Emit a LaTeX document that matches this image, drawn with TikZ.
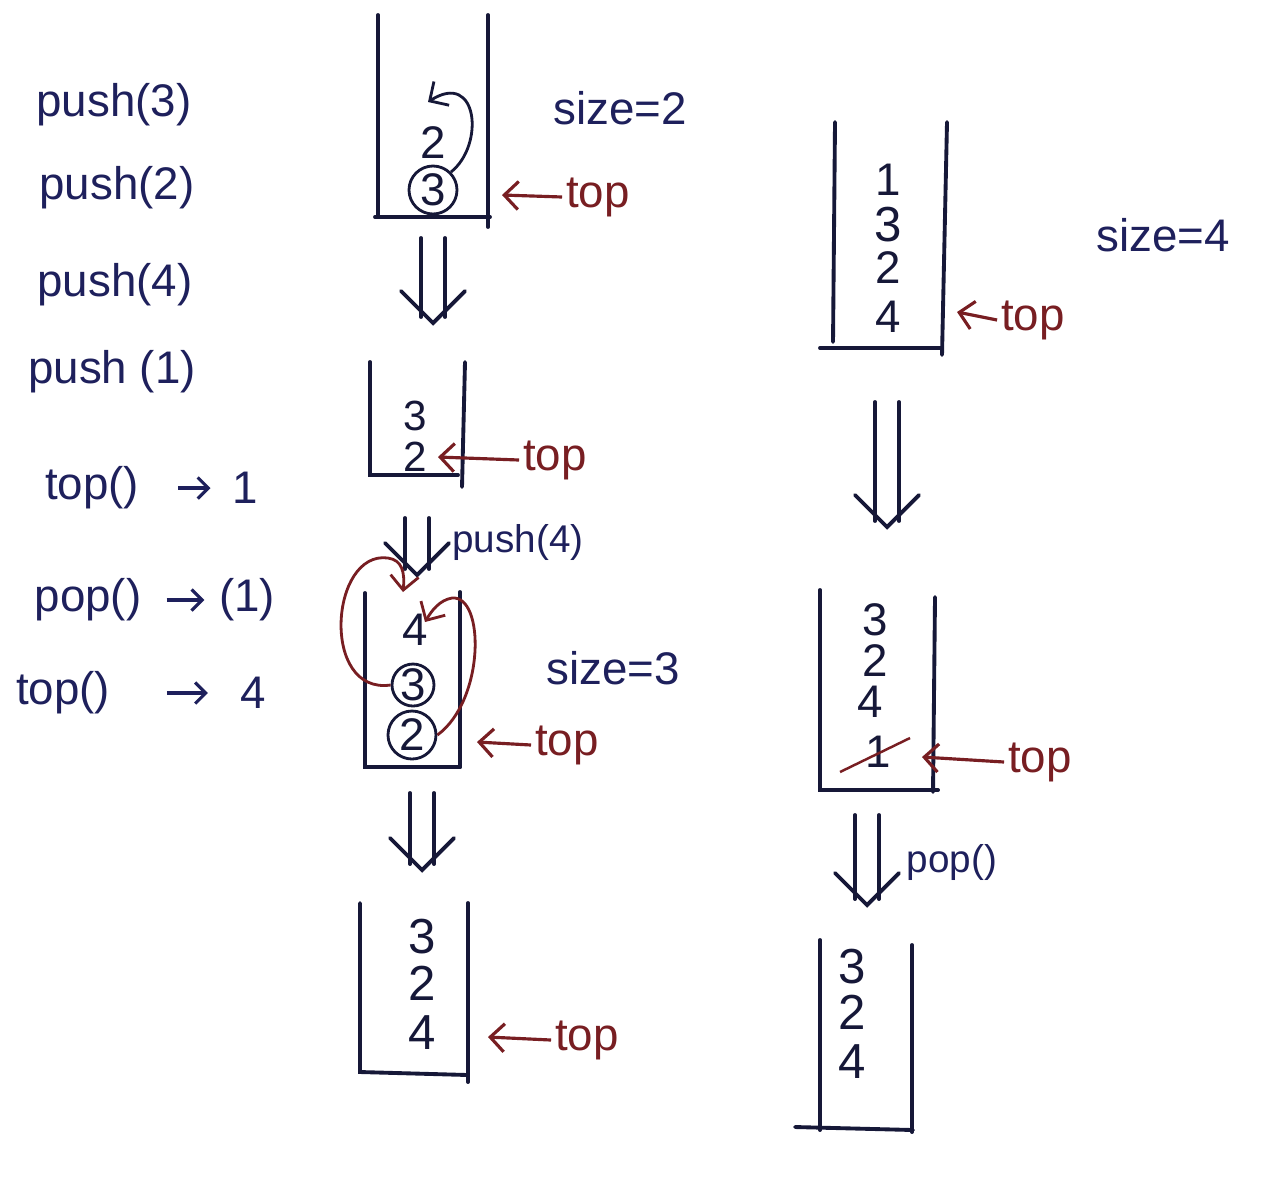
\documentclass[tikz,border=0pt]{standalone}
\usepackage{fontspec}
\setmainfont{Liberation Sans}
\usetikzlibrary{arrows.meta}
\definecolor{ink}{RGB}{30,32,92}
\definecolor{redink}{RGB}{120,30,34}
\definecolor{wallink}{RGB}{22,24,56}
\def\thendown(#1,#2,#3){\draw[wall] (#1-0.12,#2) -- (#1-0.12,#3-0.06); \draw[wall] (#1+0.12,#2) -- (#1+0.12,#3-0.06); \draw[wall] (#1-0.32,#3-0.32) -- (#1,#3) -- (#1+0.32,#3-0.32);}
\begin{document}
\begin{tikzpicture}[x=1cm, y=-1cm,
	wall/.style={line width=1.1pt, color=wallink, line cap=round},
	op/.style={font=\fontsize{13}{15}\selectfont, text=ink, inner sep=1pt},
	num/.style={font=\fontsize{13}{15}\selectfont, text=wallink, inner sep=0pt},
	ring/.style={circle, draw=wallink, line width=0.8pt, minimum size=0.48cm, inner sep=0pt},
	tag/.style={font=\fontsize{13}{15}\selectfont, text=redink, inner sep=1pt},
	ptr/.style={-{Straight Barb[length=4pt,width=8pt]}, line width=0.9pt, color=redink},
	go/.style={-{Straight Barb[length=3pt,width=6pt]}, line width=0.9pt, color=ink},
	swirl/.style={-{Straight Barb[length=4pt,width=8pt]}, line width=0.8pt, color=redink}]
			\useasboundingbox[fill=white] (0,0) rectangle (12.8,11.95);
			
			%%%%% OPERATIONS %%%%%
			\node[op] (p3) at (1.14,1.05) {push(3)};
			\node[op] (p2) at (1.17,1.88) {push(2)};
			\node[op] (p4) at (1.15,2.85) {push(4)};
			\node[op] (p1) at (1.12,3.72) {push (1)};
			
			\node[op] (topa) at (0.92,4.88) {top()};
			\node[op] (vala) at (2.45,4.88) {1};
			\draw[go, shorten <=10pt, shorten >=5pt] (topa.east) -- (vala.west);
			
			\node[op] (popa) at (0.88,6.00) {pop()};
			\node[op] (valb) at (2.47,6.00) {(1)};
			\draw[go, shorten <=6pt, shorten >=3pt] (popa.east) -- (valb.west);
			
			\node[op] (topb) at (0.63,6.93) {top()};
			\node[op] (valc) at (2.53,6.93) {4};
			\draw[go, shorten <=15pt, shorten >=8pt] (topb.east) -- (valc.west);
			
			%%%%% STACK 1 %%%%%
			\draw[wall] (3.78,0.15) -- (3.78,2.17);
			\draw[wall] (3.75,2.17) -- (4.90,2.17);
			\draw[wall] (4.88,0.15) -- (4.88,2.27);
			\node[num, ring] (s1c3) at (4.33,1.90) {3};
			\node[num] (s1n2) at (4.33,1.43) {2};
			\draw[swirl, color=wallink] (s1c3.north east) .. controls (4.85,1.45) and (4.78,0.70) .. (4.28,1.02);
			\node[op] (sz2) at (6.20,1.08) {size=2};
			\node[tag] (tp1) at (5.98,1.97) {top};
			\coordinate (s1p) at (5.02,1.95);
			\draw[ptr] (tp1.west) -- (s1p);
			
			\thendown(4.33,2.38,3.23)
			
			%%%%% STACK 2 %%%%%
			\draw[wall] (3.70,3.62) -- (3.70,4.75) -- (4.58,4.75);
			\draw[wall] (4.65,3.62) -- (4.62,4.87);
			\node[num, font=\fontsize{12}{14}\selectfont] (s2n3) at (4.15,4.16) {3};
			\node[num, font=\fontsize{12}{14}\selectfont] (s2n2) at (4.15,4.57) {2};
			\node[tag] (tp2) at (5.55,4.60) {top};
			\coordinate (s2p) at (4.38,4.57);
			\draw[ptr] (tp2.west) -- (s2p);
			
			\thendown(4.17,5.18,5.75)
			\node[op, font=\fontsize{11}{13}\selectfont] (p4b) at (5.18,5.42) {push(4)};
			
			%%%%% STACK 3 %%%%%
			\draw[wall] (3.65,5.93) -- (3.65,7.67) -- (4.60,7.67);
			\draw[wall] (4.60,5.92) -- (4.60,7.67);
			\node[num] (s3n4) at (4.15,6.30) {4};
			\node[num, ring, minimum size=0.42cm] (s3c3) at (4.13,6.85) {3};
			\node[num, ring] (s3c2) at (4.12,7.35) {2};
			\draw[swirl] (s3c3.west) .. controls (3.20,6.95) and (3.30,5.50) .. (3.88,5.58) .. controls (4.02,5.60) and (4.05,5.72) .. (4.03,5.92);
			\draw[swirl] (s3c2.east) .. controls (4.85,7.00) and (4.85,5.95) .. (4.52,5.98) .. controls (4.40,6.00) and (4.32,6.10) .. (4.25,6.22);
			\node[op] (sz3) at (6.13,6.68) {size=3};
			\node[tag] (tp3) at (5.67,7.45) {top};
			\coordinate (s3p) at (4.77,7.42);
			\draw[ptr] (tp3.west) -- (s3p);
			
			\thendown(4.22,7.93,8.70)
			
			%%%%% STACK 4 %%%%%
			\draw[wall] (3.60,9.03) -- (3.60,10.72) -- (4.68,10.75);
			\draw[wall] (4.68,9.03) -- (4.68,10.82);
			\node[num, font=\fontsize{14}{16}\selectfont] (s4n3) at (4.22,9.37) {3};
			\node[num, font=\fontsize{14}{16}\selectfont] (s4n2) at (4.22,9.83) {2};
			\node[num, font=\fontsize{14}{16}\selectfont] (s4n4) at (4.22,10.33) {4};
			\node[tag] (tp4) at (5.87,10.40) {top};
			\coordinate (s4p) at (4.88,10.37);
			\draw[ptr] (tp4.west) -- (s4p);
			
			%%%%% STACK 5 %%%%%
			\draw[wall] (8.35,1.22) -- (8.33,3.42);
			\draw[wall] (8.20,3.48) -- (9.42,3.48);
			\draw[wall] (9.47,1.22) -- (9.42,3.55);
			\node[num] (s5n1) at (8.88,1.80) {1};
			\node[num, font=\fontsize{14}{16}\selectfont] (s5n3) at (8.88,2.25) {3};
			\node[num] (s5n2) at (8.88,2.68) {2};
			\node[num] (s5n4) at (8.88,3.17) {4};
			\node[op] (sz4) at (11.63,2.35) {size=4};
			\node[tag] (tp5) at (10.33,3.20) {top};
			\coordinate (s5p) at (9.57,3.12);
			\draw[ptr] (tp5.west) -- (s5p);
			
			\thendown(8.87,4.02,5.27)
			
			%%%%% STACK 6 %%%%%
			\draw[wall] (8.20,5.90) -- (8.20,7.90) -- (9.38,7.90);
			\draw[wall] (9.35,5.97) -- (9.33,7.92);
			\node[num] (s6n3) at (8.75,6.20) {3};
			\node[num] (s6n2) at (8.75,6.61) {2};
			\node[num] (s6n4) at (8.70,7.02) {4};
			\node[num] (s6n1) at (8.78,7.52) {1};
			\draw[line width=0.7pt, redink] (8.40,7.72) -- (9.10,7.38);
			\node[tag] (tp6) at (10.40,7.62) {top};
			\coordinate (s6p) at (9.22,7.57);
			\draw[ptr] (tp6.west) -- (s6p);
			
			\thendown(8.67,8.15,9.05)
			\node[op, font=\fontsize{11}{13}\selectfont] (popb) at (9.52,8.62) {pop()};
			
			%%%%% STACK 7 %%%%%
			\draw[wall] (8.20,9.40) -- (8.20,11.30);
			\draw[wall] (7.95,11.27) -- (9.13,11.30);
			\draw[wall] (9.12,9.45) -- (9.12,11.32);
			\node[num, font=\fontsize{14}{16}\selectfont] (s7n3) at (8.52,9.67) {3};
			\node[num, font=\fontsize{14}{16}\selectfont] (s7n2) at (8.52,10.12) {2};
			\node[num, font=\fontsize{14}{16}\selectfont] (s7n4) at (8.52,10.62) {4};
\end{tikzpicture}
\end{document}
